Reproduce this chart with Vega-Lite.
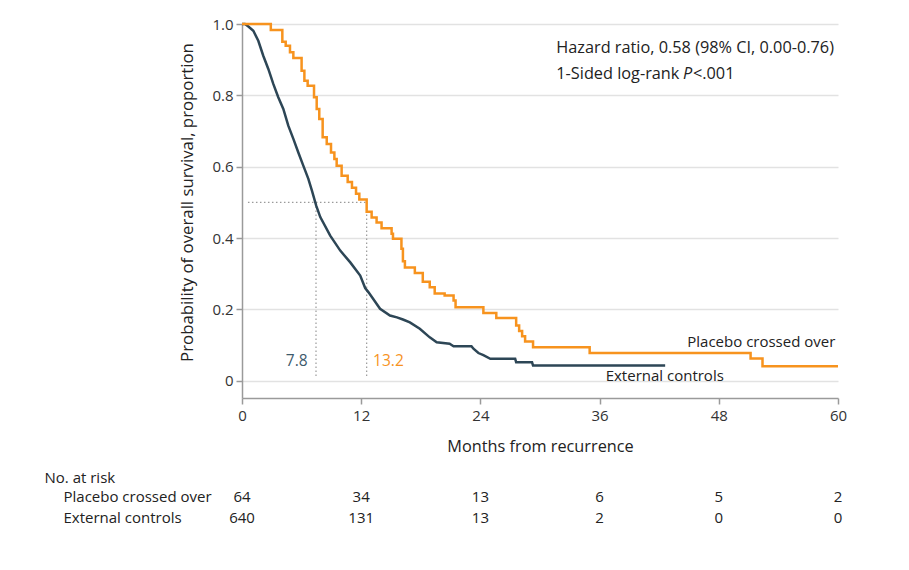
{
  "$schema": "https://vega.github.io/schema/vega-lite/v6.json",
  "padding": {"left": 44, "top": 17, "right": 5, "bottom": 5},
  "config": {"font": "Open Sans", "view": {"stroke": null}, "concat": {"spacing": 15}},
  "datasets": {
    "orange": [
      {"t": 0, "s": 1.0}, {"t": 2.9, "s": 0.983}, {"t": 4.06, "s": 0.95}, {"t": 4.4, "s": 0.939},
      {"t": 4.83, "s": 0.921}, {"t": 5.17, "s": 0.905}, {"t": 6.0, "s": 0.869}, {"t": 6.28, "s": 0.841},
      {"t": 6.61, "s": 0.827}, {"t": 7.25, "s": 0.795}, {"t": 7.52, "s": 0.762}, {"t": 7.78, "s": 0.734},
      {"t": 8.12, "s": 0.683}, {"t": 8.53, "s": 0.664}, {"t": 8.96, "s": 0.64}, {"t": 9.3, "s": 0.622},
      {"t": 9.53, "s": 0.603}, {"t": 10.03, "s": 0.575}, {"t": 10.64, "s": 0.557}, {"t": 11.07, "s": 0.541},
      {"t": 11.48, "s": 0.524}, {"t": 11.81, "s": 0.508}, {"t": 12.55, "s": 0.474}, {"t": 13.05, "s": 0.458},
      {"t": 13.55, "s": 0.444}, {"t": 14.05, "s": 0.428}, {"t": 15.06, "s": 0.412}, {"t": 15.2, "s": 0.398},
      {"t": 16.05, "s": 0.37}, {"t": 16.2, "s": 0.335}, {"t": 16.4, "s": 0.318}, {"t": 17.4, "s": 0.302},
      {"t": 18.2, "s": 0.278}, {"t": 18.9, "s": 0.262}, {"t": 19.4, "s": 0.245}, {"t": 20.4, "s": 0.239},
      {"t": 21.3, "s": 0.225}, {"t": 21.5, "s": 0.206}, {"t": 24.3, "s": 0.19}, {"t": 25.6, "s": 0.176},
      {"t": 27.6, "s": 0.155}, {"t": 27.9, "s": 0.14}, {"t": 28.2, "s": 0.125}, {"t": 28.5, "s": 0.11},
      {"t": 29.3, "s": 0.094}, {"t": 35.0, "s": 0.078}, {"t": 51.2, "s": 0.063}, {"t": 52.4, "s": 0.041},
      {"t": 60, "s": 0.041}
    ],
    "dark": [
      {"t": 0, "s": 1.0}, {"t": 0.3, "s": 1.0}, {"t": 0.64, "s": 0.993}, {"t": 1.14, "s": 0.981},
      {"t": 1.64, "s": 0.953}, {"t": 2.14, "s": 0.911}, {"t": 2.65, "s": 0.874}, {"t": 3.15, "s": 0.832},
      {"t": 3.65, "s": 0.795}, {"t": 4.16, "s": 0.762}, {"t": 4.66, "s": 0.715}, {"t": 5.17, "s": 0.678},
      {"t": 5.67, "s": 0.64}, {"t": 6.17, "s": 0.603}, {"t": 6.68, "s": 0.566}, {"t": 7.04, "s": 0.533},
      {"t": 7.47, "s": 0.491}, {"t": 7.88, "s": 0.459}, {"t": 8.88, "s": 0.407}, {"t": 9.89, "s": 0.365},
      {"t": 10.9, "s": 0.332}, {"t": 11.9, "s": 0.295}, {"t": 12.4, "s": 0.26}, {"t": 12.74, "s": 0.248},
      {"t": 13.9, "s": 0.202}, {"t": 14.9, "s": 0.183}, {"t": 15.6, "s": 0.178}, {"t": 16.2, "s": 0.172},
      {"t": 16.9, "s": 0.164}, {"t": 17.9, "s": 0.146}, {"t": 18.9, "s": 0.122}, {"t": 19.6, "s": 0.108},
      {"t": 20.9, "s": 0.104}, {"t": 21.3, "s": 0.097}, {"t": 23.1, "s": 0.097}, {"t": 23.3, "s": 0.09},
      {"t": 23.8, "s": 0.078}, {"t": 24.3, "s": 0.072}, {"t": 25.0, "s": 0.062}, {"t": 27.5, "s": 0.062},
      {"t": 27.6, "s": 0.052}, {"t": 29.2, "s": 0.052}, {"t": 29.3, "s": 0.043}, {"t": 42.6, "s": 0.043}
    ],
    "medians": [
      {"x": 0.6, "x2": 12.55, "y": 0.5, "y2": 0.5},
      {"x": 7.45, "x2": 7.45, "y": 0.5, "y2": 0.011},
      {"x": 12.55, "x2": 12.55, "y": 0.5, "y2": 0.011}
    ],
    "risk": [
      {"group": "Placebo crossed over", "month": 0, "n": 64},
      {"group": "Placebo crossed over", "month": 12, "n": 34},
      {"group": "Placebo crossed over", "month": 24, "n": 13},
      {"group": "Placebo crossed over", "month": 36, "n": 6},
      {"group": "Placebo crossed over", "month": 48, "n": 5},
      {"group": "Placebo crossed over", "month": 60, "n": 2},
      {"group": "External controls", "month": 0, "n": 640},
      {"group": "External controls", "month": 12, "n": 131},
      {"group": "External controls", "month": 24, "n": 13},
      {"group": "External controls", "month": 36, "n": 2},
      {"group": "External controls", "month": 48, "n": 0},
      {"group": "External controls", "month": 60, "n": 0}
    ]
  },
  "vconcat": [
    {
      "width": 596,
      "height": 374,
      "layer": [
        {
          "data": {"name": "medians"},
          "mark": {"type": "rule", "color": "#9a9a9a", "strokeDash": [1.5, 2.5], "strokeWidth": 1.2},
          "encoding": {
            "x": {"field": "x", "type": "quantitative", "scale": {"domain": [0, 60], "nice": false},
              "axis": {"values": [0, 12, 24, 36, 48, 60], "title": "Months from recurrence", "grid": false,
                "domainColor": "#9a9a9a", "domainWidth": 1.5, "tickColor": "#9a9a9a", "tickSize": 6, "tickWidth": 1.5,
                "labelFontSize": 15, "labelColor": "#333", "labelPadding": 4, "labelFlush": false,
                "titleFontSize": 16.3, "titleFontWeight": "normal", "titleColor": "#222", "titlePadding": 15}},
            "x2": {"field": "x2"},
            "y": {"field": "y", "type": "quantitative", "scale": {"domain": [-0.048, 1], "nice": false, "zero": false},
              "axis": {"values": [0, 0.2, 0.4, 0.6, 0.8, 1], "title": "Probability of overall survival, proportion",
                "labelExpr": "datum.value == 0 ? '0' : format(datum.value, '.1f')",
                "grid": true, "gridColor": "#e2e2e2", "gridWidth": 1.5,
                "domainColor": "#9a9a9a", "domainWidth": 1.5, "tickColor": "#9a9a9a", "tickSize": 6, "tickWidth": 1.5,
                "labelFontSize": 15, "labelColor": "#333", "labelPadding": 3,
                "titleFontSize": 16.8, "titleFontWeight": "normal", "titleColor": "#222", "titlePadding": 15, "titleY": 178}},
            "y2": {"field": "y2"}
          }
        },
        {
          "data": {"name": "dark"},
          "mark": {"type": "line", "color": "#2d4656", "strokeWidth": 2.5, "interpolate": "linear"},
          "encoding": {"x": {"field": "t", "type": "quantitative"}, "y": {"field": "s", "type": "quantitative"}}
        },
        {
          "data": {"name": "orange"},
          "mark": {"type": "line", "color": "#f7931e", "strokeWidth": 2.5, "interpolate": "step-after"},
          "encoding": {"x": {"field": "t", "type": "quantitative"}, "y": {"field": "s", "type": "quantitative"}}
        },
        {
          "data": {"values": [
            {"x": 31.64, "y": 0.933, "label": "Hazard ratio, 0.58 (98% CI, 0.00-0.76)"},
            {"x": 31.64, "y": 0.86, "label": "1-Sided log-rank"}
          ]},
          "mark": {"type": "text", "align": "left", "baseline": "middle", "fontSize": 16.3, "color": "#222"},
          "encoding": {"x": {"field": "x", "type": "quantitative"}, "y": {"field": "y", "type": "quantitative"}, "text": {"field": "label"}}
        },
        {
          "data": {"values": [{"x": 44.4, "y": 0.86, "label": "P"}]},
          "mark": {"type": "text", "align": "left", "baseline": "middle", "fontSize": 16.3, "fontStyle": "italic", "color": "#222"},
          "encoding": {"x": {"field": "x", "type": "quantitative"}, "y": {"field": "y", "type": "quantitative"}, "text": {"field": "label"}}
        },
        {
          "data": {"values": [{"x": 45.4, "y": 0.86, "label": "<.001"}]},
          "mark": {"type": "text", "align": "left", "baseline": "middle", "fontSize": 16.3, "color": "#222"},
          "encoding": {"x": {"field": "x", "type": "quantitative"}, "y": {"field": "y", "type": "quantitative"}, "text": {"field": "label"}}
        },
        {
          "data": {"values": [
            {"x": 52.28, "y": 0.109, "label": "Placebo crossed over"},
            {"x": 42.56, "y": 0.014, "label": "External controls"}
          ]},
          "mark": {"type": "text", "align": "center", "baseline": "middle", "fontSize": 15, "color": "#222"},
          "encoding": {"x": {"field": "x", "type": "quantitative"}, "y": {"field": "y", "type": "quantitative"}, "text": {"field": "label"}}
        },
        {
          "data": {"values": [{"x": 6.6, "y": 0.057, "label": "7.8"}]},
          "mark": {"type": "text", "align": "right", "baseline": "middle", "fontSize": 15.5, "color": "#3e5a6c"},
          "encoding": {"x": {"field": "x", "type": "quantitative"}, "y": {"field": "y", "type": "quantitative"}, "text": {"field": "label"}}
        },
        {
          "data": {"values": [{"x": 13.2, "y": 0.057, "label": "13.2"}]},
          "mark": {"type": "text", "align": "left", "baseline": "middle", "fontSize": 15.5, "color": "#f7931e"},
          "encoding": {"x": {"field": "x", "type": "quantitative"}, "y": {"field": "y", "type": "quantitative"}, "text": {"field": "label"}}
        }
      ]
    },
    {
      "width": 596,
      "height": 42,
      "data": {"name": "risk"},
      "mark": {"type": "text", "fontSize": 15, "color": "#222", "baseline": "middle"},
      "encoding": {
        "x": {"field": "month", "type": "quantitative", "scale": {"domain": [0, 60], "nice": false}, "axis": null},
        "y": {"field": "group", "type": "nominal", "sort": ["Placebo crossed over", "External controls"],
          "scale": {"type": "point", "padding": 0.5},
          "axis": {"title": "No. at risk", "titleAngle": 0, "titleAlign": "left", "titleBaseline": "middle",
            "titleX": -198, "titleY": -8.5, "titleFontSize": 15, "titleFontWeight": "normal", "titleColor": "#222",
            "labelAlign": "left", "labelBaseline": "middle", "labelPadding": 179, "labelFontSize": 15, "labelColor": "#222",
            "domain": false, "ticks": false}},
        "text": {"field": "n", "type": "quantitative"}
      }
    }
  ]
}
